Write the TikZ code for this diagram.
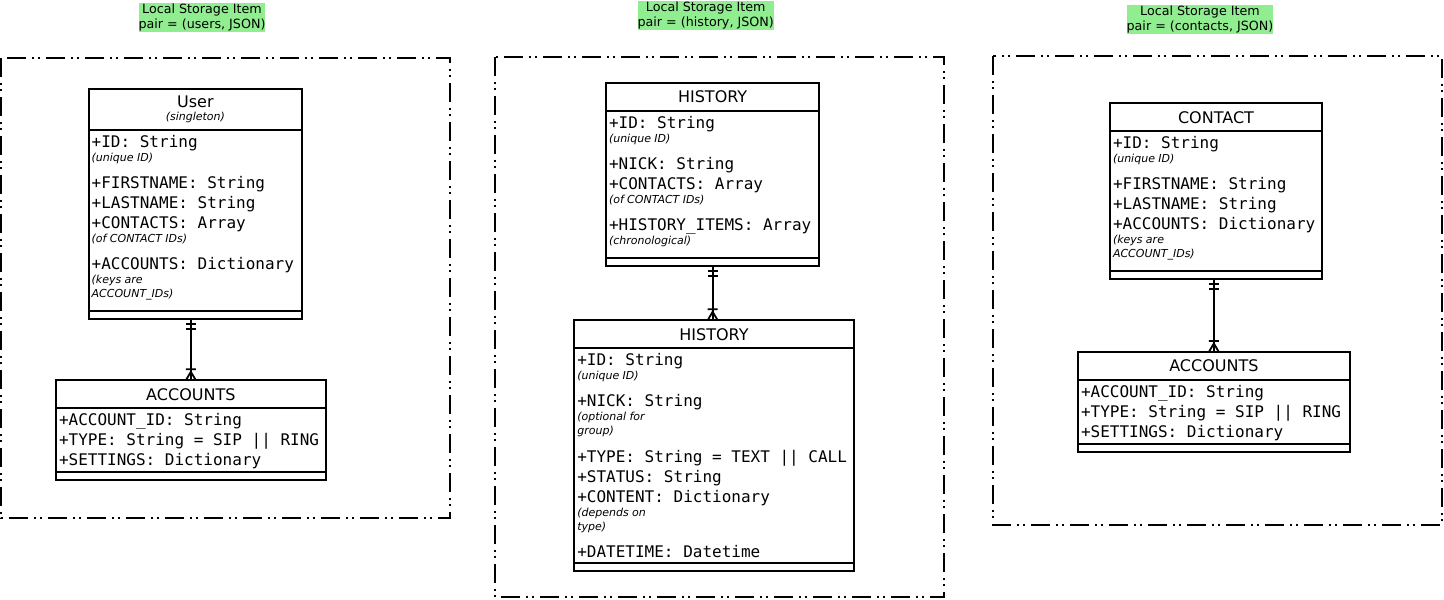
\documentclass[tikz,border=0pt]{standalone}
\usepackage{fontspec}
\setmainfont{DejaVu Sans}
\setmonofont{DejaVu Sans Mono}
\usetikzlibrary{positioning}
\definecolor{lblgreen}{HTML}{90EE90}

\newcommand{\fld}[1]{{\fontsize{16}{20}\selectfont\ttfamily\spaceskip=.602em\relax\xspaceskip=\spaceskip #1\par}}
\newcommand{\nte}[1]{{\fontsize{11}{14}\selectfont\itshape #1\par}}
\newcommand{\gap}{\vskip7.3pt}

\pgfdeclarearrow{
	name=ERone,
	setup code={
		\pgfarrowssettipend{0pt}
		\pgfarrowssetlineend{0pt}
		\pgfarrowssetbackend{-10pt}
		\pgfarrowssetvisualbackend{-10pt}
		\pgfarrowshullpoint{0pt}{5pt}
		\pgfarrowshullpoint{0pt}{-5pt}
		\pgfarrowshullpoint{-10pt}{5pt}
		\pgfarrowshullpoint{-10pt}{-5pt}
	},
	drawing code={
		\pgfpathmoveto{\pgfqpoint{-5pt}{-5pt}}
		\pgfpathlineto{\pgfqpoint{-5pt}{5pt}}
		\pgfpathmoveto{\pgfqpoint{-10pt}{-5pt}}
		\pgfpathlineto{\pgfqpoint{-10pt}{5pt}}
		\pgfusepathqstroke
	}
}
\pgfdeclarearrow{
	name=ERmany,
	setup code={
		\pgfarrowssettipend{0pt}
		\pgfarrowssetlineend{0pt}
		\pgfarrowssetbackend{-11pt}
		\pgfarrowssetvisualbackend{-11pt}
		\pgfarrowshullpoint{0pt}{5pt}
		\pgfarrowshullpoint{0pt}{-5pt}
		\pgfarrowshullpoint{-11pt}{5pt}
		\pgfarrowshullpoint{-11pt}{-5pt}
	},
	drawing code={
		\pgfpathmoveto{\pgfqpoint{-11pt}{-5pt}}
		\pgfpathlineto{\pgfqpoint{-11pt}{5pt}}
		\pgfpathmoveto{\pgfqpoint{0pt}{-5pt}}
		\pgfpathlineto{\pgfqpoint{-8.5pt}{0pt}}
		\pgfpathlineto{\pgfqpoint{0pt}{5pt}}
		\pgfusepathqstroke
	}
}

\begin{document}
\begin{tikzpicture}[x=1pt,y=-1pt,
	frame/.style={line width=1.8pt,dash pattern=on 19pt off 6pt on 2pt off 4pt on 2pt off 6pt},
	lbl/.style={fill=lblgreen,align=center,inner xsep=0pt,inner ysep=1pt,font=\fontsize{12.7}{15.3}\selectfont},
	cls/.style={draw,line width=1.8pt,outer sep=0pt,inner sep=0pt,minimum height=28pt,align=center,anchor=north west,font=\fontsize{16}{19}\selectfont},
	attrs/.style={draw,line width=1.8pt,outer sep=0pt,inner xsep=3pt,inner ysep=0pt,align=left,text height=17.3pt},
	ops/.style={draw,line width=1.8pt,outer sep=0pt,inner sep=0pt,minimum height=8pt},
	rel/.style={line width=1.8pt,ERone-ERmany}]

\useasboundingbox (0,0) rectangle (1444,600);

\draw[frame] (1,58.3) rectangle (450.3,518.3);
\draw[frame] (495,57.2) rectangle (943.8,597.2);
\draw[frame] (992.8,56.2) rectangle (1442.2,525);

\node[lbl] (lusers) at (202,17.3) {Local Storage Item\\pair = (users, JSON)};
\node[lbl] (lhist) at (705.7,15.3) {Local Storage Item\\pair = (history, JSON)};
\node[lbl] (lcont) at (1200,19.3) {Local Storage Item\\pair = (contacts, JSON)};

\node[cls,minimum width=213.3pt,minimum height=41pt] (user) at (88.7,88.7) {User\\[-5.5pt]{\fontsize{11}{13}\selectfont\itshape (singleton)}};
\node[attrs,text width=207.3pt,text depth=163.7pt,below=0pt of user] (userattr) {\fld{+ID: String}\nte{(unique ID)}\gap\fld{+FIRSTNAME: String}\fld{+LASTNAME: String}\fld{+CONTACTS: Array}\nte{(of CONTACT IDs)}\gap\fld{+ACCOUNTS: Dictionary}\nte{(keys are\newline ACCOUNT\_IDs)}};
\node[ops,minimum width=213.3pt,below=0pt of userattr] (userops) {};

\node[cls,minimum width=269.7pt] (acc1) at (56,380.3) {ACCOUNTS};
\node[attrs,text width=263.7pt,text depth=46.7pt,below=0pt of acc1] (acc1attr) {\fld{+ACCOUNT\_ID: String}\fld{+TYPE: String = SIP || RING}\fld{+SETTINGS: Dictionary}};
\node[ops,minimum width=269.7pt,below=0pt of acc1attr] (acc1ops) {};

\node[cls,minimum width=213.3pt] (hist1) at (606,83) {HISTORY};
\node[attrs,text width=207.3pt,text depth=129.7pt,below=0pt of hist1] (hist1attr) {\fld{+ID: String}\nte{(unique ID)}\gap\fld{+NICK: String}\fld{+CONTACTS: Array}\nte{(of CONTACT IDs)}\gap\fld{+HISTORY\_ITEMS: Array}\nte{(chronological)}};
\node[ops,minimum width=213.3pt,below=0pt of hist1attr] (hist1ops) {};

\node[cls,minimum width=279.4pt] (hist2) at (574.3,320.3) {HISTORY};
\node[attrs,text width=273.4pt,text depth=197.7pt,below=0pt of hist2] (hist2attr) {\fld{+ID: String}\nte{(unique ID)}\gap\fld{+NICK: String}\nte{(optional for\newline group)}\gap\fld{+TYPE: String = TEXT || CALL}\fld{+STATUS: String}\fld{+CONTENT: Dictionary}\nte{(depends on\newline type)}\gap\fld{+DATETIME: Datetime}};
\node[ops,minimum width=279.4pt,below=0pt of hist2attr] (hist2ops) {};

\node[cls,minimum width=212pt] (cont) at (1110,103.3) {CONTACT};
\node[attrs,text width=206pt,text depth=122.7pt,below=0pt of cont] (contattr) {\fld{+ID: String}\nte{(unique ID)}\gap\fld{+FIRSTNAME: String}\fld{+LASTNAME: String}\fld{+ACCOUNTS: Dictionary}\nte{(keys are\newline ACCOUNT\_IDs)}};
\node[ops,minimum width=212pt,below=0pt of contattr] (contops) {};

\node[cls,minimum width=271.7pt] (acc3) at (1078,352) {ACCOUNTS};
\node[attrs,text width=265.7pt,text depth=46.7pt,below=0pt of acc3] (acc3attr) {\fld{+ACCOUNT\_ID: String}\fld{+TYPE: String = SIP || RING}\fld{+SETTINGS: Dictionary}};
\node[ops,minimum width=271.7pt,below=0pt of acc3attr] (acc3ops) {};

\draw[rel] (acc1.north |- userops.south) -- (acc1.north);
\draw[rel] (hist1ops.south) -- (hist1ops.south |- hist2.north);
\draw[rel] (acc3.north |- contops.south) -- (acc3.north);

\end{tikzpicture}
\end{document}
